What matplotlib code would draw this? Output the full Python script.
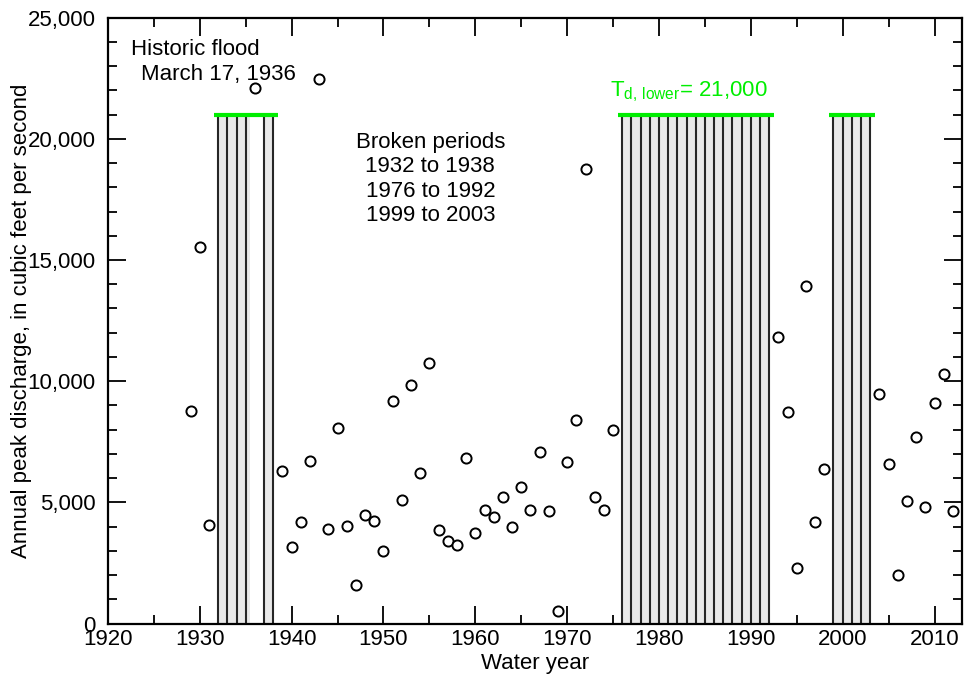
import numpy as np
import matplotlib.pyplot as plt

plt.rcParams['font.family'] = ['Liberation Sans', 'DejaVu Sans']
plt.rcParams['mathtext.fontset'] = 'custom'
plt.rcParams['mathtext.rm'] = 'Liberation Sans'
plt.rcParams['mathtext.it'] = 'Liberation Sans'

# annual peaks (water year, cfs)
years = [1929, 1930, 1931, 1936, 1939, 1940, 1941, 1942, 1943, 1944, 1945, 1946,
         1947, 1948, 1949, 1950, 1951, 1952, 1953, 1954, 1955, 1956, 1957, 1958,
         1959, 1960, 1961, 1962, 1963, 1964, 1965, 1966, 1967, 1968, 1969, 1970,
         1971, 1972, 1973, 1974, 1975, 1993, 1994, 1995, 1996, 1997, 1998, 2004,
         2005, 2006, 2007, 2008, 2009, 2010, 2011, 2012]
peaks = [8770, 15550, 4080, 22080, 6310, 3140, 4170, 6710, 22480, 3880, 8070, 4040,
         1590, 4480, 4240, 3010, 9170, 5110, 9840, 6215, 10730, 3870, 3415, 3235,
         6820, 3745, 4700, 4380, 5210, 3970, 5620, 4680, 7085, 4660, 530, 6685,
         8380, 18770, 5220, 4680, 7970, 11830, 8740, 2310, 13940, 4190, 6380, 9490,
         6575, 1995, 5040, 7690, 4820, 9085, 10315, 4655]

# missing years in broken periods
missing = [1932, 1933, 1934, 1935, 1937, 1938] + list(range(1976, 1993)) + list(range(1999, 2004))
shade_spans = [(1932, 1935.5), (1937, 1938), (1976, 1992), (1999, 2003)]
threshold_spans = [(1932, 1938), (1976, 1992), (1999, 2003)]
t_lower = 21000

fig = plt.figure(figsize=(9.64, 6.79), dpi=100)
ax = fig.add_axes([0.112, 0.0817, 0.886, 0.8923])

for a, b in shade_spans:
    ax.fill_between([a, b], 0, t_lower, color='#e9e9e9', lw=0, zorder=1)
ax.vlines(missing, 0, t_lower, color='#262626', lw=1.5, zorder=2)
for a, b in threshold_spans:
    ax.plot([a - 0.5, b + 0.5], [t_lower, t_lower], color='#00ee00', lw=3,
            solid_capstyle='butt', zorder=3)

ax.plot(years, peaks, 'o', mfc='white', mec='black', ms=7.3, mew=1.4, zorder=4)

fs = 16
ax.text(1922.5, 23700, 'Historic flood', fontsize=fs, va='center', ha='left')
ax.text(1923.6, 22650, 'March 17, 1936', fontsize=fs, va='center', ha='left')
ax.text(1955.1, 20300, 'Broken periods\n1932 to 1938\n1976 to 1992\n1999 to 2003',
        fontsize=fs, ha='center', va='top', linespacing=1.22)
ax.text(1983.3, 21750, r'$\mathregular{T_{d,\,lower}}$= 21,000', fontsize=fs,
        color='#00ee00', ha='center', va='baseline')

ax.set_xlim(1920, 2013)
ax.set_ylim(0, 25000)
ax.set_xticks(np.arange(1920, 2011, 10))
ax.set_xticks(np.arange(1925, 2013, 5), minor=True)
ax.set_yticks(np.arange(0, 25001, 5000))
ax.set_yticks(np.arange(0, 25001, 1000), minor=True)
ax.set_yticklabels([f'{v:,}' for v in range(0, 25001, 5000)])
ax.tick_params(which='both', direction='in', top=True, right=True, labelsize=fs, width=1.3)
ax.tick_params(which='major', length=13)
ax.tick_params(which='minor', length=6.5)
ax.tick_params(axis='y', pad=9)
ax.tick_params(axis='x', pad=4)
for s in ax.spines.values():
    s.set_linewidth(1.6)

ax.set_xlabel('Water year', fontsize=fs, labelpad=2)
ax.set_ylabel('Annual peak discharge, in cubic feet per second', fontsize=fs, labelpad=-3)

fig.savefig('out.png', dpi=100)
